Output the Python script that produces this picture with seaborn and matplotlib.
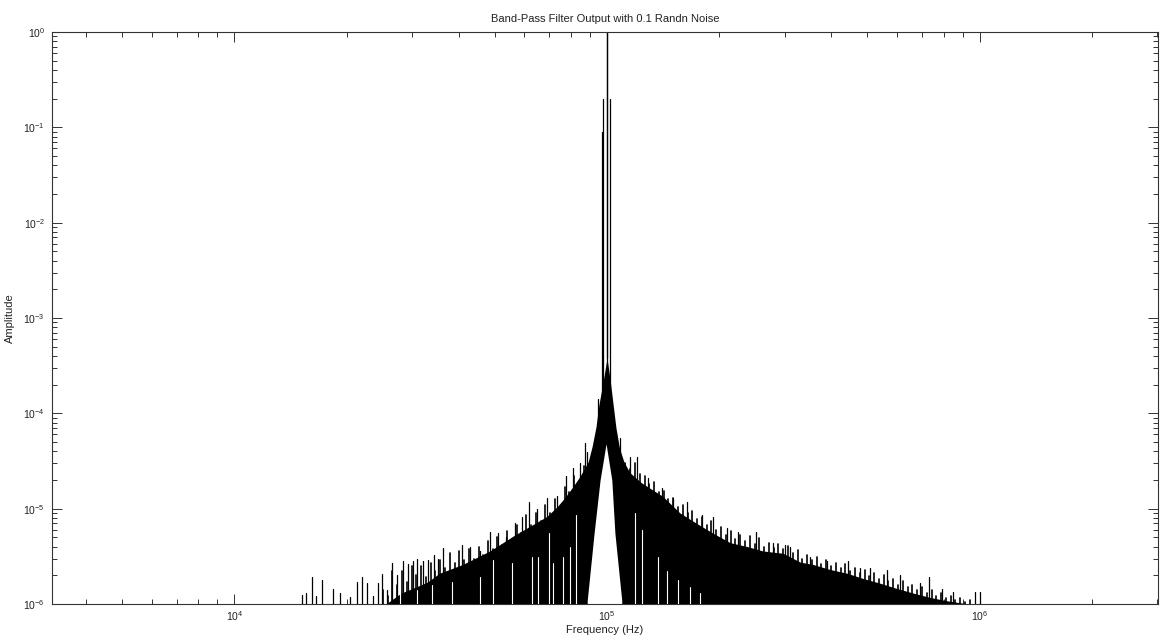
import numpy as np
import pandas as pd
import matplotlib
matplotlib.use("Agg")
import matplotlib.pyplot as plt
import seaborn as sns
from matplotlib.ticker import FixedLocator, LogFormatterSciNotation, NullFormatter

# ---------------- data ----------------
title = "Band-Pass Filter Output with 0.1 Randn Noise"
xlabel = "Frequency (Hz)"
ylabel = "Amplitude"

x_major_ticks = [1e4, 1e5, 1e6]
y_major_ticks = [1e-6, 1e-5, 1e-4, 1e-3, 1e-2, 1e-1, 1e0]

# upper boundary of the solid part of the noise mass
body_freq = [25500, 28000, 30000, 33000, 35500, 41000, 48500, 56600, 62000,
             69000, 73500, 77000, 81000, 84700, 89000, 91200, 93400, 95000, 97500,
             100000, 102000, 103800, 105700, 108000, 111000, 115000, 123000, 130000, 141000,
             157000, 174000, 193000, 214000, 238000, 262000, 297000, 330000, 357000, 397000,
             441000, 487000, 541000, 601000, 664000, 737000, 818000, 887000, 940000]
body_top = [1.0e-6, 1.3e-6, 1.45e-6, 1.7e-6, 2.1e-6, 2.6e-6, 3.6e-6, 5.3e-6, 6.5e-6,
            8.3e-6, 1.05e-5, 1.3e-5, 1.7e-5, 2.2e-5, 3.1e-5, 4.5e-5, 7.2e-5, 1.2e-4, 2.1e-4,
            3.8e-4, 2.2e-4, 1.25e-4, 7.0e-5, 4.3e-5, 3.1e-5, 2.4e-5, 1.9e-5, 1.65e-5, 1.35e-5,
            9.0e-6, 7.0e-6, 5.5e-6, 4.4e-6, 4.0e-6, 3.6e-6, 3.4e-6, 2.75e-6, 2.6e-6, 2.3e-6,
            2.1e-6, 1.85e-6, 1.65e-6, 1.45e-6, 1.3e-6, 1.17e-6, 1.08e-6, 1.03e-6, 1.0e-6]

# white notch under the centre frequency
notch_freq = [87500, 88500, 92300, 95800, 99400, 103000, 105000, 109500, 110500]
notch_top = [1e-7, 1.1e-6, 5.5e-6, 2e-5, 4.8e-5, 2e-5, 5.5e-6, 1.1e-6, 1e-7]

# tallest individual spectral lines / noise spikes
spike_freq = [15200, 15600, 16200, 16600, 17200, 18400, 19200, 20400, 21300, 22000,
              22700, 23500, 24300, 24900, 25700, 26500, 27300, 28300, 29200, 30100,
              30900, 32100, 33000, 34300, 35200, 36300, 40800, 42900, 45500, 48500,
              51000, 53500, 56600, 59100, 61800, 64900, 69000, 73500, 77600, 81000,
              84700, 87300, 88400, 94600, 97000, 97500, 100000, 101600, 108400, 115300,
              120400, 128900, 140500, 150000, 164100, 180000, 192700, 210000, 224800, 251000,
              279000, 301000, 310000, 351000, 390000, 444000, 478000, 508000, 564000, 612000,
              692000, 732000, 793000, 849000, 972000, 1000000]
spike_amp = [1.24e-6, 1.31e-6, 1.9e-6, 1.2e-6, 1.8e-6, 1.44e-6, 1.31e-6, 1.18e-6, 1.7e-6, 1.9e-6,
             1.66e-6, 1.2e-6, 1.66e-6, 2.06e-6, 1.41e-6, 2.7e-6, 2.0e-6, 2.8e-6, 2.6e-6, 2.8e-6,
             3.0e-6, 2.8e-6, 2.9e-6, 3.3e-6, 3.0e-6, 3.9e-6, 4.2e-6, 4.0e-6, 3.6e-6, 5.7e-6,
             5.5e-6, 5.0e-6, 7.1e-6, 8.2e-6, 1.17e-5, 1.0e-5, 1.3e-5, 1.35e-5, 2.2e-5, 2.7e-5,
             3.0e-5, 4.9e-5, 3.9e-5, 1.4e-4, 0.09, 0.2, 1.0, 0.2, 5.5e-5, 3.5e-5,
             3.5e-5, 2.1e-5, 1.65e-5, 1.3e-5, 1.17e-5, 8.5e-6, 8.2e-6, 6.3e-6, 5.7e-6, 5.7e-6,
             4.4e-6, 4.2e-6, 4.0e-6, 3.1e-6, 2.8e-6, 2.8e-6, 2.4e-6, 2.4e-6, 2.3e-6, 2.0e-6,
             1.66e-6, 1.9e-6, 1.44e-6, 1.35e-6, 1.35e-6, 1.35e-6]

# ordinary noise spikes forming the ragged top of the mass
noise_freq = [25000, 25800, 26500, 27300, 28100, 29000, 29900, 30800, 31700, 32600,
              33600, 34600, 35600, 36700, 37800, 39000, 40100, 41300, 42600, 43900,
              45200, 46500, 47900, 49400, 50800, 52400, 53900, 55600, 57200, 58900,
              60700, 62500, 64400, 66300, 68300, 70400, 72500, 74700, 76900, 79200,
              81600, 84000, 86500,
              112000, 115400, 118800, 122400, 126100, 129800, 133700, 137800, 141900, 146100,
              150500, 155000, 159700, 164500, 169400, 174500, 179700, 185100, 190700, 196400,
              202300, 208400, 214600, 221000, 227700, 234500, 241500, 248800, 256200, 263900,
              271800, 280000, 288400, 297000, 306000, 315100, 324600, 334300, 344400, 354700,
              365300, 376300, 387600, 399200, 411200, 423500, 436200, 449300, 462800, 476700,
              491000, 505700, 520900, 536500, 552600, 569200, 586200, 603800, 621900, 640600,
              659800, 679600, 700000, 721000, 742600, 764900, 787800, 811500, 835800, 860900,
              886700, 913300, 940700]
noise_amp = [1.4e-6, 1.2e-6, 2.2e-6, 1.6e-6, 2.2e-6, 1.7e-6, 2.5e-6, 2.0e-6, 2.5e-6, 1.9e-6,
             2.7e-6, 2.2e-6, 2.9e-6, 2.4e-6, 3.4e-6, 2.7e-6, 3.6e-6, 2.9e-6, 3.8e-6, 3.0e-6,
             4.0e-6, 3.3e-6, 4.6e-6, 3.8e-6, 5.0e-6, 4.2e-6, 5.8e-6, 4.8e-6, 6.8e-6, 5.6e-6,
             8.5e-6, 6.8e-6, 9.0e-6, 7.5e-6, 1.1e-5, 9.0e-6, 1.25e-5, 1.05e-5, 1.7e-5, 1.5e-5,
             2.2e-5, 1.9e-5, 2.8e-5,
             3.0e-5, 2.6e-5, 3.0e-5, 2.3e-5, 2.2e-5, 1.8e-5, 1.9e-5, 1.5e-5, 1.55e-5, 1.25e-5,
             1.3e-5, 1.05e-5, 1.1e-5, 9.0e-6, 9.5e-6, 7.8e-6, 8.2e-6, 6.8e-6, 7.5e-6, 6.0e-6,
             6.5e-6, 5.3e-6, 5.8e-6, 4.8e-6, 5.3e-6, 4.6e-6, 5.2e-6, 4.3e-6, 4.9e-6, 4.0e-6,
             4.4e-6, 3.9e-6, 4.3e-6, 3.8e-6, 4.1e-6, 3.4e-6, 3.7e-6, 3.0e-6, 3.3e-6, 2.9e-6,
             3.1e-6, 2.6e-6, 2.9e-6, 2.5e-6, 2.7e-6, 2.4e-6, 2.6e-6, 2.2e-6, 2.4e-6, 2.1e-6,
             2.3e-6, 1.95e-6, 2.1e-6, 1.85e-6, 2.0e-6, 1.75e-6, 1.85e-6, 1.6e-6, 1.75e-6, 1.5e-6,
             1.6e-6, 1.4e-6, 1.5e-6, 1.3e-6, 1.4e-6, 1.22e-6, 1.3e-6, 1.15e-6, 1.22e-6, 1.1e-6,
             1.15e-6, 1.05e-6, 1.1e-6]

# local minima that leave white gaps in the noise mass
dip_freq = [27900, 31000, 34000, 38400, 45600, 49400, 55600, 62900, 65300, 70000,
            71600, 76200, 79600, 82500, 118900, 124200, 137000, 145000, 155000,
            167000, 178000]
dip_amp = [1.3e-6, 1.4e-6, 1.6e-6, 1.7e-6, 1.9e-6, 2.9e-6, 2.7e-6, 3.1e-6, 3.1e-6, 5.5e-6,
           2.7e-6, 3.1e-6, 4.0e-6, 8.6e-6, 9.1e-6, 6.0e-6, 3.1e-6, 2.2e-6, 1.8e-6,
           1.5e-6, 1.3e-6]

x_limits = (3.24e3, 3.01e6)
y_limits = (1e-6, 1.0)

# ---------------- style ----------------
sns.set_style("ticks")
plt.rcParams['font.family'] = ['Liberation Sans', 'DejaVu Sans']
plt.rcParams['mathtext.fontset'] = 'custom'
plt.rcParams['mathtext.rm'] = 'Liberation Sans'
plt.rcParams['mathtext.it'] = 'Liberation Sans:italic'
plt.rcParams['mathtext.bf'] = 'Liberation Sans:bold'

fig = plt.figure(figsize=(11.61, 6.43), dpi=100)
ax = fig.add_axes([52 / 1161, 1 - 604 / 643, (1158 - 52) / 1161, (604 - 32) / 643])
ax.set_xscale('log')
ax.set_yscale('log')
ax.set_xlim(*x_limits)
ax.set_ylim(*y_limits)

floor = 1e-7


def stems(freqs, amps):
    rows = []
    for i, (f, a) in enumerate(zip(freqs, amps)):
        rows.append({'f': f, 'a': floor, 'id': i})
        rows.append({'f': f, 'a': a, 'id': i})
    return pd.DataFrame(rows)


# spikes
sns.lineplot(data=stems(noise_freq, noise_amp), x='f', y='a', units='id', estimator=None,
             sort=False, color='black', lw=1.2, ax=ax, legend=False)
sns.lineplot(data=stems(spike_freq, spike_amp), x='f', y='a', units='id', estimator=None,
             sort=False, color='black', lw=0.9, ax=ax, legend=False)

# dense body
ax.fill_between(body_freq, floor, body_top, color='black', lw=0, zorder=2)

# white notch and gaps
ax.fill_between(notch_freq, floor, notch_top, color='white', lw=0, zorder=2.1)
sns.lineplot(data=stems(dip_freq, dip_amp), x='f', y='a', units='id', estimator=None,
             sort=False, color='white', lw=0.8, ax=ax, legend=False, zorder=2.2)

# the central line on top
ax.vlines([100000], 3.8e-4, 1.0, color='black', lw=0.9, zorder=2.3)

# axes cosmetics (MATLAB look)
ax.set_xlim(*x_limits)
ax.set_ylim(*y_limits)
for s in ax.spines.values():
    s.set_visible(True)
    s.set_color('#333333')
    s.set_linewidth(0.8)

x_minor = [m * 10.0 ** e for e in range(3, 7) for m in range(2, 10)
           if x_limits[0] <= m * 10.0 ** e <= x_limits[1]]
y_minor = [m * 10.0 ** e for e in range(-6, 0) for m in range(2, 10)]
ax.xaxis.set_major_locator(FixedLocator(x_major_ticks))
ax.yaxis.set_major_locator(FixedLocator(y_major_ticks))
ax.xaxis.set_minor_locator(FixedLocator(x_minor))
ax.yaxis.set_minor_locator(FixedLocator(y_minor))
ax.xaxis.set_major_formatter(LogFormatterSciNotation())
ax.yaxis.set_major_formatter(LogFormatterSciNotation())
ax.xaxis.set_minor_formatter(NullFormatter())
ax.yaxis.set_minor_formatter(NullFormatter())
ax.tick_params(which='both', direction='in', top=True, right=True, colors='#333333',
               labelcolor='#222222', labelsize=7.5, width=0.7)
ax.tick_params(which='minor', labelbottom=False, labelleft=False)
ax.tick_params(which='major', length=7)
ax.tick_params(which='minor', length=3.6)
ax.tick_params(axis='x', pad=4)
ax.tick_params(axis='y', pad=5)

ax.set_title(title, fontsize=8, color='#222222', pad=7)
ax.set_xlabel(xlabel, fontsize=8, color='#222222', labelpad=1)
ax.set_ylabel(ylabel, fontsize=8, color='#222222', labelpad=6)

fig.savefig('out.png', dpi=100)
